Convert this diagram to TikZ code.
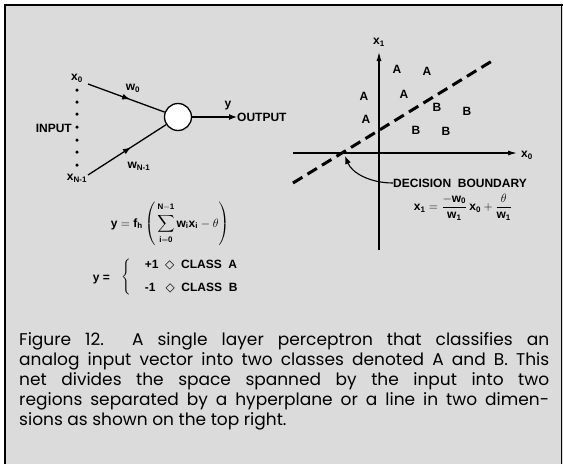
\documentclass[tikz,border=0pt]{standalone}
\usepackage{amsmath}
\usepackage{fontspec}
\setmainfont{Liberation Sans}
\newfontfamily\capfont{Poppins}
\newfontfamily\symfont{DejaVu Sans}
\usetikzlibrary{arrows.meta,decorations.markings,positioning}

\newcommand{\lozsym}{\mbox{\symfont\bfseries\fontsize{12}{12}\selectfont\char"25C7}}

\begin{document}
\begin{tikzpicture}[x=1pt, y=-1pt,
  font=\fontsize{12}{14}\selectfont\bfseries,
  lbl/.style={inner sep=0pt},
  dot/.style={circle, fill, inner sep=0pt, minimum size=3.5pt},
  wire/.style={line width=1.3pt, postaction={decorate},
               decoration={markings, mark=at position 0.55 with {\arrow{Latex[length=8pt,width=6pt]}}}},
  ar/.style={-{Latex[length=8pt,width=6pt]}, line width=1.3pt},
  axis/.style={-{Latex[length=9pt,width=5pt]}, line width=1.1pt},
  bound/.style={line width=3pt, dash pattern=on 11pt off 6pt}
]
\useasboundingbox (0,0) rectangle (563,464);
\fill[black!14] (5,5) rectangle (563,464);
\draw[line width=2.5pt] (5,464) -- (5,5) -- (563,5);
\draw[line width=0.6pt] (561,5) -- (561,464);

% perceptron
\node[lbl] (x0) at (77,78) {x\textsubscript{0}};
\foreach \y [count=\i] in {90,102,114,127,140,152,165}
  \node[dot] (d\i) at (77,\y) {};
\node[lbl, anchor=east] (input) at (72,128) {INPUT};
\node[lbl] (xn) at (77,178) {x\textsubscript{N-1}};
\node[circle, draw, fill=white, line width=1.3pt, minimum size=27pt, inner sep=0pt] (sum) at (178,117) {};
\coordinate (s0) at (88,84);
\coordinate (sn) at (88,175);
\draw[wire] (s0) -- (sum);
\draw[wire] (sn) -- (sum);
\node[lbl] (w0) at (133,88) {w\textsubscript{0}};
\node[lbl] (wn) at (139,166) {w\textsubscript{N-1}};
\node[lbl, anchor=west] (out) at (237,117) {OUTPUT};
\draw[ar] (sum) -- (out.west);
\node[lbl] (y) at (228,106) {y};

% equations
\node (eq1) at (170,224)
  {$\displaystyle \mathbf{y} = \mathbf{f}_{\mathbf{h}}\left(\,\sum_{\raisebox{-2pt}{$\scriptstyle\mathbf{i=0}$}}^{\raisebox{3pt}{$\scriptstyle\mathbf{N-1}$}}
    \mathbf{w}_{\mathbf{i}}\mathbf{x}_{\mathbf{i}} - \theta\right)$};
\node[lbl, anchor=east] (yeq) at (110,280) {y =};
\node[lbl, anchor=west] (cases) at (121,277)
  {$\left\{\begin{array}{@{\hspace{14pt}}l@{}}
    \textbf{+1}\ \ \lozsym\ \ \textbf{CLASS\ \ A}\\[9pt]
    \textbf{-1}\ \ \ \lozsym\ \ \textbf{CLASS\ \ B}
  \end{array}\right.$};

% decision plane
\coordinate (ybot) at (379,250);
\coordinate (ytop) at (379,52);
\coordinate (xleft) at (293,153);
\coordinate (xright) at (517,153);
\draw[axis] (ybot) -- (ytop);
\draw[axis] (xleft) -- (xright);
\node[lbl] (x1) at (379,42) {x\textsubscript{1}};
\node[lbl, anchor=west] (x0r) at (521,155) {x\textsubscript{0}};
\coordinate (b1) at (293,183);
\coordinate (b2) at (492,61);
\draw[bound] (b1) -- (b2);
\foreach \x/\y [count=\i] in {397/69,427/71,364/96,404/94,366/119}
  \node[lbl] (a\i) at (\x,\y) {A};
\foreach \x/\y [count=\i] in {437/107,467/111,416/130,446/131}
  \node[lbl] (b\i) at (\x,\y) {B};
\node[lbl, anchor=west] (db) at (393,183) {DECISION\ \ BOUNDARY};
\coordinate (hit) at (345,156);
\draw[ar, line width=1.1pt] (db.west) .. controls (370,183) and (352,173) .. (hit);
\node (eq2) at (463,207)
  {$\mathbf{x}_{\mathbf{1}} = \dfrac{\mathbf{-w}_{\mathbf{0}}}{\mathbf{w}_{\mathbf{1}}}\,\mathbf{x}_{\mathbf{0}}
    + \dfrac{\theta}{\mathbf{w}_{\mathbf{1}}}$};

% caption
\node[anchor=base west, inner sep=0pt, text width=530pt, align=justify,
      font=\capfont\fontsize{17}{20}\selectfont] (cap) at (19,345)
  {Figure 12.\ \ A single layer perceptron that classifies an\linebreak
   analog input vector into two classes denoted A and B. This\linebreak
   net divides the space spanned by the input into two\linebreak
   regions separated by a hyperplane or a line in two dimen-\linebreak
   sions as shown on the top right.};
\end{tikzpicture}
\end{document}
